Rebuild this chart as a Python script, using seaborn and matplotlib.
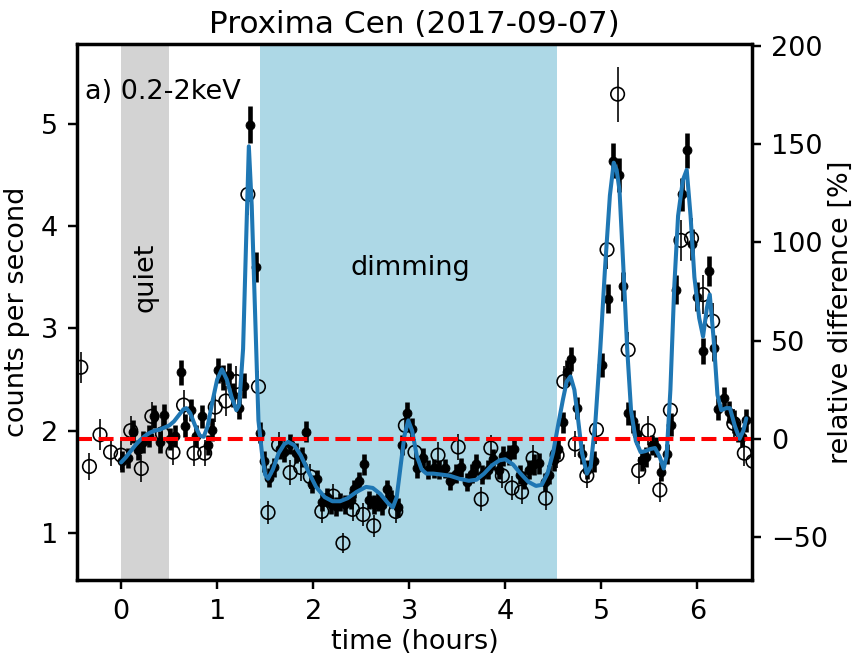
import numpy as np
import pandas as pd
import matplotlib
matplotlib.use("Agg")
import matplotlib.pyplot as plt
import seaborn as sns

# ---------------- data ----------------
quiet_level = 1.92
quiet_span = (0.0, 0.5)
dimming_span = (1.45, 4.54)

filled_t = [0.01, 0.07, 0.12, 0.18, 0.23, 0.29, 0.34, 0.40, 0.45, 0.51, 0.56, 0.62, 0.67, 0.73, 0.78,
            0.84, 0.90, 0.95, 1.01, 1.06, 1.12, 1.17, 1.23, 1.28, 1.34, 1.40, 1.45, 1.49, 1.54, 1.59,
            1.65, 1.70, 1.76, 1.82, 1.88, 1.93, 1.99, 2.04, 2.09, 2.14, 2.19, 2.24, 2.28, 2.33, 2.39,
            2.43, 2.48, 2.53, 2.58, 2.63, 2.67, 2.72, 2.77, 2.81, 2.88, 2.93, 2.98, 3.03, 3.08, 3.14,
            3.20, 3.26, 3.31, 3.37, 3.43, 3.49, 3.54, 3.60, 3.65, 3.70, 3.76, 3.82, 3.87, 3.93, 3.98,
            4.04, 4.09, 4.15, 4.20, 4.25, 4.30, 4.35, 4.41, 4.46, 4.51, 4.55, 4.60, 4.64, 4.68, 4.75,
            4.80, 4.85, 4.92, 5.01, 5.07, 5.12, 5.18, 5.23, 5.28, 5.33, 5.37, 5.42, 5.47, 5.53, 5.57,
            5.62, 5.68, 5.73, 5.78, 5.84, 5.89, 5.95, 6.00, 6.06, 6.12, 6.17, 6.22, 6.28, 6.33, 6.38,
            6.42, 6.47, 6.51]
filled_c = [1.70, 1.73, 1.99, 1.81, 1.89, 1.95, 2.14, 1.89, 2.15, 1.92, 1.95, 2.57, 2.05, 2.20, 1.95,
            2.14, 1.86, 2.01, 2.59, 2.52, 2.54, 2.35, 2.22, 2.44, 4.99, 3.60, 1.98, 1.70, 1.54, 1.64,
            1.82, 1.79, 1.87, 1.78, 1.74, 1.99, 1.48, 1.53, 1.30, 1.35, 1.28, 1.26, 1.30, 1.28, 1.32,
            1.43, 1.51, 1.67, 1.32, 1.28, 1.30, 1.27, 1.43, 1.33, 1.25, 1.86, 2.17, 2.02, 1.63, 1.73,
            1.62, 1.63, 1.62, 1.63, 1.51, 1.58, 1.64, 1.50, 1.58, 1.67, 1.57, 1.62, 1.72, 1.62, 1.75,
            1.76, 1.82, 1.57, 1.52, 1.62, 1.67, 1.68, 1.50, 1.57, 1.71, 1.82, 2.08, 2.57, 2.70, 2.22,
            1.77, 1.62, 1.70, 2.64, 3.29, 4.64, 4.50, 3.41, 2.17, 2.09, 1.97, 1.71, 1.74, 1.86, 1.84,
            1.60, 1.77, 2.06, 3.38, 4.31, 4.74, 3.82, 3.31, 2.78, 3.56, 2.81, 2.21, 2.32, 2.18, 2.09,
            1.99, 1.94, 2.10]
filled_err = [0.10, 0.10, 0.11, 0.10, 0.11, 0.11, 0.11, 0.11, 0.11, 0.11, 0.11, 0.12, 0.11, 0.11, 0.11,
              0.11, 0.10, 0.11, 0.12, 0.12, 0.12, 0.12, 0.11, 0.12, 0.18, 0.15, 0.10, 0.10, 0.09, 0.09,
              0.10, 0.10, 0.10, 0.10, 0.10, 0.10, 0.09, 0.09, 0.09, 0.09, 0.09, 0.09, 0.09, 0.09, 0.09,
              0.09, 0.09, 0.10, 0.09, 0.09, 0.09, 0.09, 0.09, 0.09, 0.09, 0.10, 0.11, 0.10, 0.09, 0.10,
              0.09, 0.09, 0.09, 0.09, 0.09, 0.09, 0.09, 0.09, 0.09, 0.10, 0.09, 0.09, 0.10, 0.09, 0.10,
              0.10, 0.10, 0.09, 0.09, 0.09, 0.10, 0.10, 0.09, 0.09, 0.10, 0.10, 0.10, 0.12, 0.12, 0.11,
              0.10, 0.09, 0.10, 0.12, 0.14, 0.17, 0.17, 0.14, 0.11, 0.11, 0.10, 0.10, 0.10, 0.10, 0.10,
              0.09, 0.10, 0.11, 0.14, 0.16, 0.17, 0.15, 0.14, 0.13, 0.15, 0.13, 0.11, 0.11, 0.11, 0.11,
              0.10, 0.10, 0.11]

open_t = [-0.42, -0.33, -0.22, -0.11, 0.00, 0.10, 0.21, 0.32, 0.43, 0.54, 0.65, 0.76, 0.87, 0.98, 1.09,
          1.20, 1.32, 1.43, 1.53, 1.64, 1.76, 1.87, 1.97, 2.09, 2.21, 2.31, 2.41, 2.52, 2.63, 2.86,
          2.96, 3.06, 3.30, 3.51, 3.75, 3.85, 3.97, 4.07, 4.17, 4.29, 4.42, 4.54, 4.61, 4.73, 4.85,
          4.95, 5.06, 5.17, 5.28, 5.39, 5.49, 5.61, 5.72, 5.83, 5.94, 6.06, 6.16, 6.38, 6.49, 6.58]
open_c = [2.62, 1.65, 1.96, 1.79, 1.76, 2.00, 1.63, 2.14, 1.97, 1.79, 2.25, 1.78, 1.78, 2.23, 2.29,
          2.48, 4.31, 2.43, 1.20, 1.86, 1.59, 1.64, 1.55, 1.21, 1.36, 0.90, 1.23, 1.18, 1.07, 1.21,
          2.05, 1.79, 1.76, 1.84, 1.33, 1.83, 1.56, 1.44, 1.40, 1.73, 1.34, 1.76, 2.48, 1.87, 1.56,
          2.01, 3.77, 5.29, 2.79, 1.61, 2.00, 1.42, 2.20, 3.86, 3.88, 3.33, 3.07, 2.07, 1.78, 1.70]
open_err = [0.15, 0.13, 0.15, 0.14, 0.14, 0.14, 0.13, 0.14, 0.14, 0.13, 0.15, 0.13, 0.13, 0.15, 0.15,
            0.15, 0.20, 0.15, 0.11, 0.13, 0.12, 0.13, 0.12, 0.11, 0.12, 0.10, 0.11, 0.11, 0.11, 0.11,
            0.14, 0.13, 0.13, 0.13, 0.12, 0.13, 0.12, 0.12, 0.12, 0.13, 0.12, 0.13, 0.15, 0.13, 0.12,
            0.14, 0.19, 0.27, 0.17, 0.13, 0.14, 0.12, 0.15, 0.20, 0.20, 0.19, 0.18, 0.14, 0.13, 0.13]

curve_t = [0.00, 0.05, 0.10, 0.15, 0.20, 0.25, 0.30, 0.35, 0.40, 0.45, 0.50, 0.55, 0.60, 0.65, 0.68,
           0.72, 0.77, 0.82, 0.86, 0.90, 0.95, 1.00, 1.05, 1.10, 1.15, 1.20, 1.23, 1.27, 1.30, 1.33,
           1.36, 1.40, 1.43, 1.47, 1.50, 1.53, 1.58, 1.64, 1.70, 1.74, 1.80, 1.87, 1.95, 2.03, 2.12,
           2.20, 2.28, 2.36, 2.45, 2.55, 2.62, 2.70, 2.78, 2.83, 2.87, 2.91, 2.95, 2.99, 3.03, 3.08,
           3.13, 3.18, 3.25, 3.34, 3.42, 3.52, 3.62, 3.70, 3.78, 3.86, 3.94, 4.00, 4.08, 4.16, 4.24,
           4.32, 4.38, 4.44, 4.50, 4.55, 4.60, 4.64, 4.68, 4.72, 4.76, 4.80, 4.85, 4.89, 4.94, 4.99,
           5.04, 5.09, 5.13, 5.16, 5.19, 5.23, 5.27, 5.31, 5.36, 5.41, 5.46, 5.51, 5.56, 5.61, 5.65,
           5.68, 5.72, 5.76, 5.80, 5.85, 5.89, 5.93, 5.97, 6.02, 6.06, 6.10, 6.13, 6.17, 6.21, 6.25,
           6.30, 6.34, 6.39, 6.44, 6.48, 6.51]
curve_c = [1.69, 1.74, 1.80, 1.86, 1.91, 1.95, 1.98, 2.00, 2.01, 2.03, 2.05, 2.09, 2.15, 2.21, 2.22,
           2.17, 2.05, 1.95, 1.94, 2.04, 2.28, 2.50, 2.60, 2.50, 2.33, 2.20, 2.25, 2.80, 3.80, 4.78,
           4.20, 3.00, 2.10, 1.75, 1.57, 1.53, 1.62, 1.78, 1.87, 1.89, 1.86, 1.76, 1.60, 1.45, 1.35,
           1.31, 1.31, 1.34, 1.40, 1.45, 1.44, 1.38, 1.29, 1.25, 1.35, 1.65, 1.95, 2.10, 2.00, 1.75,
           1.62, 1.58, 1.58, 1.57, 1.56, 1.53, 1.51, 1.52, 1.58, 1.66, 1.71, 1.72, 1.67, 1.58, 1.50,
           1.46, 1.47, 1.58, 1.79, 2.05, 2.30, 2.48, 2.53, 2.40, 2.10, 1.78, 1.58, 1.65, 2.10, 2.80,
           3.60, 4.30, 4.62, 4.55, 4.35, 3.60, 2.80, 2.20, 1.90, 1.79, 1.80, 1.82, 1.83, 1.74, 1.63,
           1.75, 2.40, 3.40, 4.10, 4.45, 4.55, 4.10, 3.50, 3.10, 2.92, 3.20, 3.33, 2.90, 2.35, 2.20,
           2.22, 2.22, 2.05, 1.92, 2.00, 2.12]

x_ticks = [0, 1, 2, 3, 4, 5, 6]
y_ticks = [1, 2, 3, 4, 5]
rel_ticks = [-50, 0, 50, 100, 150, 200]
x_range = (-0.46, 6.57)
y_range = (0.54, 5.78)

# ---------------- style ----------------
sns.set_theme(style="ticks")
plt.rcParams.update({
    "font.family": ["DejaVu Sans"],
    "font.size": 10,
    "axes.labelsize": 10,
    "axes.titlesize": 10,
    "xtick.labelsize": 10,
    "ytick.labelsize": 10,
    "axes.linewidth": 1.2,
    "xtick.major.size": 3.5,
    "ytick.major.size": 3.5,
    "xtick.major.width": 0.9,
    "ytick.major.width": 0.9,
    "axes.edgecolor": "black",
    "xtick.color": "black",
    "ytick.color": "black",
    "text.color": "black",
    "axes.labelcolor": "black",
})

fig = plt.figure(figsize=(857 / 195, 659 / 195), dpi=195)
ax = fig.add_axes([0.0898, 0.1199, 0.7877, 0.8133])

ax.axvspan(*quiet_span, color="lightgray", lw=0, zorder=0)
ax.axvspan(*dimming_span, color="lightblue", lw=0, zorder=0)

open_df = pd.DataFrame({"t": open_t, "c": open_c, "e": open_err})
filled_df = pd.DataFrame({"t": filled_t, "c": filled_c, "e": filled_err})
curve_df = pd.DataFrame({"t": curve_t, "c": curve_c})

ax.errorbar(open_df["t"], open_df["c"], yerr=open_df["e"], fmt="none",
            ecolor="black", elinewidth=0.6, zorder=2)
sns.scatterplot(data=open_df, x="t", y="c", ax=ax, marker="o", s=25,
                facecolor="none", edgecolor="black", linewidth=0.6, zorder=2)

ax.errorbar(filled_df["t"], filled_df["c"], yerr=filled_df["e"], fmt="none",
            ecolor="black", elinewidth=1.7, zorder=3)
sns.scatterplot(data=filled_df, x="t", y="c", ax=ax, marker="o", s=11,
                color="black", edgecolor="black", linewidth=0.3, zorder=3)

sns.lineplot(data=curve_df, x="t", y="c", ax=ax, color="#1f77b4", lw=1.5,
             sort=False, zorder=4)

ax.axhline(quiet_level, color="red", ls="--", lw=1.5, zorder=5)

ax.text(0.25, 3.50, "quiet", rotation=90, ha="center", va="center", fontsize=10)
ax.text(3.01, 3.59, "dimming", ha="center", va="center", fontsize=10)
ax.text(0.012, 0.91, "a) 0.2-2keV", transform=ax.transAxes, ha="left", va="center", fontsize=10)

ax.set_xlim(*x_range)
ax.set_ylim(*y_range)
ax.set_xticks(x_ticks)
ax.set_yticks(y_ticks)
ax.set_xlabel("time (hours)", labelpad=1.5)
ax.set_ylabel("counts per second")
ax.set_title("Proxima Cen (2017-09-07)", fontsize=11.5, pad=4)

ax2 = ax.twinx()
ax2.set_ylim((y_range[0] / quiet_level - 1) * 100, (y_range[1] / quiet_level - 1) * 100)
ax2.set_yticks(rel_ticks)
ax2.set_ylabel("relative difference [%]", labelpad=0)
for a in (ax, ax2):
    for s in a.spines.values():
        s.set_visible(True)
        s.set_linewidth(1.2)
        s.set_color("black")

fig.savefig("out.png", dpi=195)
